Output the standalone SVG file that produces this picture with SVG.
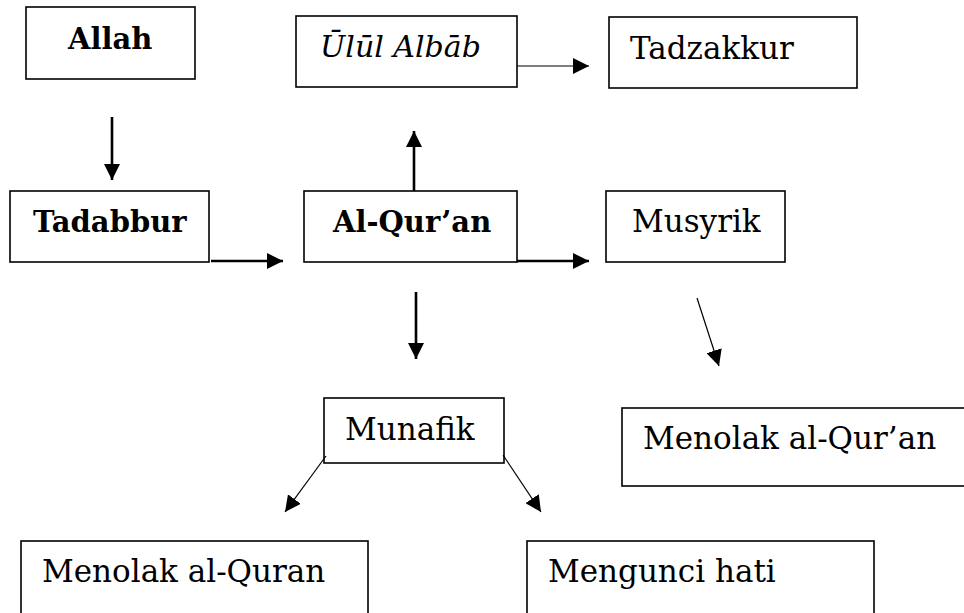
<svg xmlns="http://www.w3.org/2000/svg" width="964" height="613" viewBox="0 0 964 613">
<defs>
<style>
.box{fill:#fff;stroke:#000;stroke-width:1.6}
.t{font-family:"DejaVu Serif","Liberation Serif",serif;font-size:31px;fill:#000}
.b{font-weight:bold;font-size:29px}
.i{font-style:italic;font-size:30px}
.thick{stroke:#000;stroke-width:2.6;fill:none}
.thin{stroke:#000;stroke-width:1.2;fill:none}
</style>
<marker id="ah" markerUnits="userSpaceOnUse" markerWidth="16" markerHeight="16" viewBox="0 0 16 16" refX="16" refY="8" orient="auto">
<path d="M0,0 L16,8 L0,16 Z" fill="#000"/>
</marker>
</defs>
<rect width="964" height="613" fill="#fff"/>
<g id="node-allah"><rect class="box" x="26" y="7" width="169" height="72"/><text class="t b" x="68" y="49">Allah</text></g>
<g id="node-ulul"><rect class="box" x="296" y="16" width="221" height="71"/><text class="t i" x="320" y="57">Ūlūl Albāb</text></g>
<g id="node-tadzakkur"><rect class="box" x="609" y="17" width="248" height="71"/><text class="t" x="630" y="59">Tadzakkur</text></g>
<g id="node-tadabbur"><rect class="box" x="10" y="191" width="199" height="71"/><text class="t b" x="33" y="232">Tadabbur</text></g>
<g id="node-alquran"><rect class="box" x="304" y="191" width="213" height="71"/><text class="t b" x="333" y="232">Al-Qur’an</text></g>
<g id="node-musyrik"><rect class="box" x="606" y="191" width="179" height="71"/><text class="t" x="632" y="232">Musyrik</text></g>
<g id="node-munafik"><rect class="box" x="324" y="398" width="180" height="65"/><text class="t" x="345" y="440">Munafik</text></g>
<g id="node-menolak2"><rect class="box" x="622" y="408" width="350" height="78"/><text class="t" x="643" y="449">Menolak al-Qur’an</text></g>
<g id="node-menolak1"><rect class="box" x="21" y="541" width="347" height="80"/><text class="t" x="42" y="582">Menolak al-Quran</text></g>
<g id="node-mengunci"><rect class="box" x="527" y="541" width="347" height="80"/><text class="t" x="548" y="582">Mengunci hati</text></g>
<g id="connectors">
<line class="thin" x1="517" y1="66" x2="589" y2="66" marker-end="url(#ah)"/>
<line class="thick" x1="112" y1="117" x2="112" y2="180" marker-end="url(#ah)"/>
<line class="thick" x1="211" y1="261" x2="283" y2="261" marker-end="url(#ah)"/>
<line class="thick" x1="414" y1="191" x2="414" y2="131" marker-end="url(#ah)"/>
<line class="thick" x1="517" y1="261" x2="589" y2="261" marker-end="url(#ah)"/>
<line class="thick" x1="416" y1="292" x2="416" y2="359" marker-end="url(#ah)"/>
<line class="thin" x1="697" y1="298" x2="719" y2="366" marker-end="url(#ah)"/>
<line class="thin" x1="326" y1="456" x2="285" y2="512" marker-end="url(#ah)"/>
<line class="thin" x1="503" y1="455" x2="541" y2="512" marker-end="url(#ah)"/>
</g>
</svg>
